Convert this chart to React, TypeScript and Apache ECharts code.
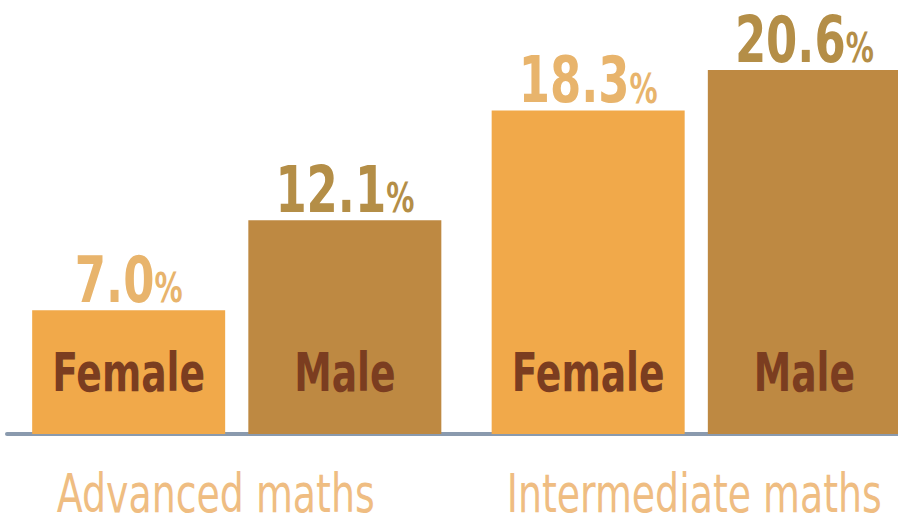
import React, { useEffect, useRef } from "react";
import * as echarts from "echarts";

const categories = ["Advanced maths", "Intermediate maths"];
const seriesNames = ["Female", "Male"];
const femaleValues = [7.0, 18.3];
const maleValues = [12.1, 20.6];

const FONT = "'DejaVu Sans Condensed', 'Liberation Sans Narrow', sans-serif";
const BAR_W = 193;
const BAR_GAP = 0.12;
const BAR_COLORS = ["#F1A94A", "#BE8942"];
const VALUE_COLORS = ["#E8B46C", "#B48E47"];
const NAME_COLOR = "#7B3D20";
const CAT_COLOR = "#EFBD82";
const CAT_SHIFT = [-21, -2];

export default function App() {
  const ref = useRef<HTMLDivElement>(null);
  useEffect(() => {
    if (!ref.current) return;
    const chart = echarts.init(ref.current, null, { renderer: "svg" });
    const data = [femaleValues, maleValues];
    const half = (BAR_W * (1 + BAR_GAP)) / 2;

    const barSeries = data.map((vals, i) => ({
      type: "bar",
      name: seriesNames[i],
      data: vals,
      barWidth: BAR_W,
      barGap: `${BAR_GAP * 100}%`,
      itemStyle: { color: BAR_COLORS[i] },
      z: 2,
    }));

    const labelSeries = data.map((vals, i) => ({
      type: "custom",
      name: seriesNames[i] + " labels",
      coordinateSystem: "cartesian2d",
      clip: false,
      z: 5,
      data: vals.map((v, k) => [k, v]),
      encode: { x: 0, y: 1 },
      renderItem: (params: any, api: any) => {
        const k = api.value(0);
        const v = api.value(1);
        const top = api.coord([k, v]);
        const base = api.coord([k, 0]);
        const cx = top[0] + (i === 0 ? -half : half);
        return {
          type: "group",
          children: [
            {
              type: "text",
              x: cx,
              y: top[1] + 2,
              scaleX: 0.78,
              style: {
                text: `{v|${Number(v).toFixed(1)}}{p|%}`,
                align: "center",
                verticalAlign: "bottom",
                rich: {
                  v: { fontFamily: FONT, fontSize: 64, fontWeight: "bold", fill: VALUE_COLORS[i], verticalAlign: "bottom" },
                  p: { fontFamily: FONT, fontSize: 40, fontWeight: "bold", fill: VALUE_COLORS[i], verticalAlign: "bottom", padding: [0, 0, 4, 0] },
                },
              },
            },
            {
              type: "text",
              x: cx,
              y: base[1] - 61,
              scaleX: 0.79,
              style: {
                text: seriesNames[i],
                fontFamily: FONT,
                fontSize: 53,
                fontWeight: "bold",
                fill: NAME_COLOR,
                align: "center",
                verticalAlign: "middle",
              },
            },
          ],
        };
      },
    }));

    const categorySeries = {
      type: "custom",
      name: "categories",
      coordinateSystem: "cartesian2d",
      clip: false,
      z: 5,
      data: categories.map((_, k) => [k, 0]),
      encode: { x: 0, y: 1 },
      renderItem: (params: any, api: any) => {
        const p = api.coord([api.value(0), 0]);
        return {
          type: "text",
          x: p[0] + CAT_SHIFT[params.dataIndex],
          y: p[1] + 59,
          scaleX: 0.78,
          style: {
            text: categories[params.dataIndex],
            fontFamily: FONT,
            fontSize: 54,
            fill: CAT_COLOR,
            align: "center",
            verticalAlign: "middle",
          },
        };
      },
    };

    chart.setOption({
      animation: false,
      backgroundColor: "#ffffff",
      grid: { left: 7, width: 919, top: 0, height: 434, containLabel: false, outerBoundsMode: "none" },
      xAxis: {
        type: "category",
        data: categories,
        axisLine: { show: true, lineStyle: { color: "#8A9AAE", width: 4 } },
        axisTick: { show: false },
        axisLabel: { show: false },
      },
      yAxis: { type: "value", min: 0, max: 24.56, show: false, splitLine: { show: false } },
      series: [...barSeries, ...labelSeries, categorySeries],
    });
    return () => chart.dispose();
  }, []);
  return (
    <div
      ref={ref}
      style={{ position: "fixed", left: 0, top: 0, width: 898, height: 524, background: "#fff" }}
    />
  );
}
